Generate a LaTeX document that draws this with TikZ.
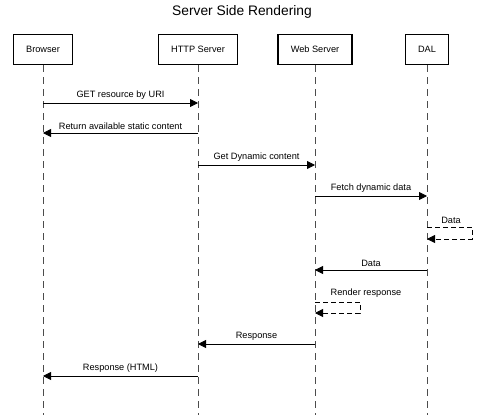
\documentclass[tikz,border=0pt]{standalone}
\usepackage{fontspec}
\setmainfont{Liberation Sans}
\usetikzlibrary{arrows.meta, positioning}

\begin{document}
\begin{tikzpicture}[
    x=1pt, y=-1pt,
    box/.style={draw, line width=1.8pt, minimum height=30pt,
                font=\fontsize{9.2}{10}\selectfont, text centered},
    lifeline/.style={draw=black!70, line width=1pt, dash pattern=on 7pt off 5pt},
    msg/.style={draw, line width=0.8pt, -{Triangle[length=8pt, width=8pt]}},
    selfmsg/.style={msg, dash pattern=on 5pt off 3pt},
    lbl/.style={font=\fontsize{9.2}{10}\selectfont}
  ]
  \useasboundingbox (0,0) rectangle (480,415);

  \node[font=\fontsize{13.8}{15}\selectfont] (title) at (242,12) {Server Side Rendering};

  % participants
  \node[box, minimum width=59pt] (browser) at (43,49.5) {Browser};
  \node[box, minimum width=79pt] (http) at (198,49.5) {HTTP Server};
  \node[box, minimum width=74pt] (web) at (315,49.5) {Web Server};
  \node[box, minimum width=43pt] (dal) at (427,49.5) {DAL};

  % lifelines
  \coordinate (bottom) at (0,415);
  \draw[lifeline] (browser.south) -- (browser |- bottom);
  \draw[lifeline] (http.south) -- (http |- bottom);
  \draw[lifeline] (web.south) -- (web |- bottom);
  \draw[lifeline] (dal.south) -- (dal |- bottom);

  % message rows
  \coordinate (s1) at (0,103);
  \coordinate (s2) at (0,133);
  \coordinate (s3) at (0,165);
  \coordinate (s4) at (0,196);
  \coordinate (s5) at (0,227);
  \coordinate (s5b) at (0,239);
  \coordinate (s6) at (0,270);
  \coordinate (s7) at (0,302);
  \coordinate (s7b) at (0,313);
  \coordinate (s8) at (0,344);
  \coordinate (s9) at (0,376);

  \draw[msg] (browser |- s1) -- node[lbl, above] {GET resource by URI} (http |- s1);
  \draw[msg] (http |- s2) -- node[lbl, above] {Return available static content} (browser |- s2);
  \draw[msg] (http |- s3) -- node[lbl, above] {Get Dynamic content} (web |- s3);
  \draw[msg] (web |- s4) -- node[lbl, above] {Fetch dynamic data} (dal |- s4);

  % DAL returns data to itself
  \draw[selfmsg] (dal |- s5) -- ++(45,0) |- (dal |- s5b);
  \node[lbl] (selfdata) at (451,220) {Data};

  \draw[msg] (dal |- s6) -- node[lbl, above] {Data} (web |- s6);

  % render step
  \draw[selfmsg] (web |- s7) -- ++(45,0) |- (web |- s7b);
  \node[lbl] (render) at (366,293) {Render response};

  \draw[msg] (web |- s8) -- node[lbl, above] {Response} (http |- s8);
  \draw[msg] (http |- s9) -- node[lbl, above] {Response (HTML)} (browser |- s9);
\end{tikzpicture}
\end{document}
